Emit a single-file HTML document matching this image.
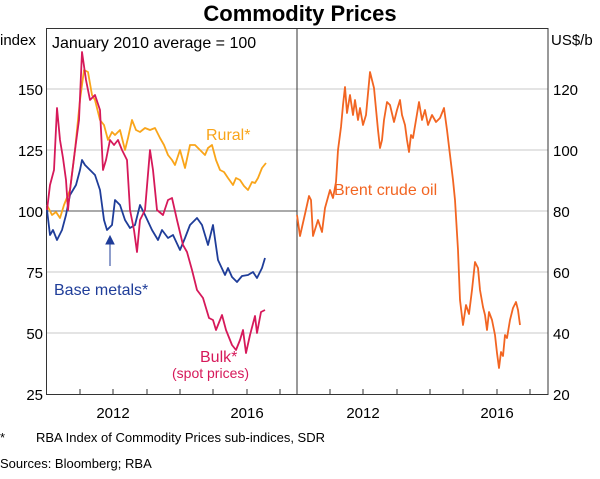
<!DOCTYPE html>
<html><head><style>body{margin:0;background:#fff}svg{font-family:"Liberation Sans",sans-serif}</style></head><body>
<svg width="600" height="474" viewBox="0 0 600 474">
<text x="300" y="21" text-anchor="middle" font-size="22" font-weight="bold">Commodity Prices</text>
<g stroke="#c8c8c8" stroke-width="1">
<line x1="47" y1="89" x2="548" y2="89"/><line x1="47" y1="150" x2="548" y2="150"/>
<line x1="297" y1="211" x2="548" y2="211"/><line x1="47" y1="272" x2="548" y2="272"/><line x1="47" y1="333" x2="548" y2="333"/>
</g>
<line x1="47" y1="211" x2="297" y2="211" stroke="#555" stroke-width="1"/>
<rect x="46.5" y="28.5" width="501.5" height="366" fill="none" stroke="#333" stroke-width="1"/>
<line x1="297" y1="28" x2="297" y2="395" stroke="#333"/>
<g stroke="#333">
<line x1="80" y1="395" x2="80" y2="389"/><line x1="113" y1="395" x2="113" y2="389"/><line x1="147" y1="395" x2="147" y2="389"/><line x1="180" y1="395" x2="180" y2="389"/><line x1="213" y1="395" x2="213" y2="389"/><line x1="247" y1="395" x2="247" y2="389"/><line x1="280" y1="395" x2="280" y2="389"/>
<line x1="330" y1="395" x2="330" y2="389"/><line x1="363" y1="395" x2="363" y2="389"/><line x1="397" y1="395" x2="397" y2="389"/><line x1="430" y1="395" x2="430" y2="389"/><line x1="463" y1="395" x2="463" y2="389"/><line x1="497" y1="395" x2="497" y2="389"/><line x1="530" y1="395" x2="530" y2="389"/>
</g>
<g font-size="15" fill="#000">
<text x="0" y="45">index</text>
<g text-anchor="end"><text x="43" y="95">150</text><text x="43" y="156">125</text><text x="43" y="217">100</text><text x="43" y="278">75</text><text x="43" y="339">50</text><text x="43" y="400">25</text></g>
<text x="551" y="45">US$/b</text>
<g><text x="553" y="95">120</text><text x="553" y="156">100</text><text x="553" y="217">80</text><text x="553" y="278">60</text><text x="553" y="339">40</text><text x="553" y="400">20</text></g>
<g text-anchor="middle"><text x="113" y="418">2012</text><text x="247" y="418">2016</text><text x="363" y="418">2012</text><text x="497" y="418">2016</text></g>
<text x="52" y="48" font-size="16">January 2010 average = 100</text>
</g>
<g fill="none" stroke-width="1.8" stroke-linejoin="round">
<polyline stroke="#f9a51a" points="47,205 52,215 56,212 60,218 64,205 70,190 75,150 80,100 84,70 88,72 92,95 95,100 100,120 104,125 108,140 112,132 115,135 120,130 125,150 128,138 132,120 136,130 140,132 145,128 150,130 155,128 160,138 164,145 168,155 172,160 175,165 180,150 185,168 190,145 195,145 200,150 205,155 208,148 212,145 216,160 220,170 224,172 228,178 233,185 236,178 240,180 244,186 248,190 252,182 255,183 258,178 262,168 266,163"/>
<polyline stroke="#1f3d99" points="47,210 50,235 53,230 57,240 62,230 66,215 70,195 76,185 80,170 82,160 85,165 90,170 95,175 100,190 104,220 107,230 112,225 115,200 120,205 125,220 130,228 135,225 140,205 145,215 152,230 158,240 162,230 168,238 173,235 180,250 185,238 190,225 197,218 202,225 208,245 213,225 218,260 225,275 228,268 232,277 237,282 242,276 248,275 253,272 257,278 262,268 265,258"/>
<polyline stroke="#d6195a" points="47,210 50,185 54,170 57,108 60,140 63,158 66,180 68,210 70,190 75,150 79,120 82,52 86,80 90,100 95,95 100,110 103,170 106,160 110,140 114,145 118,140 122,150 127,160 130,210 134,230 137,252 140,220 145,210 150,150 153,170 157,210 163,215 168,200 172,198 177,220 183,245 187,252 192,270 197,290 203,298 209,318 213,320 216,330 222,315 226,330 232,345 236,350 240,340 243,330 246,353 250,335 255,316 257,333 261,312 265,310"/>
<polyline stroke="#f26522" points="297,215 300,236 305,214 309,196 311,200 313,236 318,220 322,232 325,208 330,190 333,198 336,182 338,150 341,127 343,105 345,87 347,113 350,95 353,115 355,100 358,120 360,108 363,125 366,115 370,72 374,88 378,130 380,148 382,140 384,120 387,102 390,105 394,122 397,110 400,100 402,115 405,125 407,140 409,152 411,135 413,138 416,120 419,102 422,120 425,110 428,125 432,115 436,122 440,118 444,108 447,130 450,155 453,180 455,200 458,250 460,300 463,325 466,305 469,314 472,290 475,262 478,268 480,290 483,307 485,315 487,330 489,312 492,320 495,335 497,353 499,368 501,352 503,356 505,335 507,338 510,320 513,308 516,302 518,310 520,325"/>
</g>
<g stroke="#1f3d99" fill="#1f3d99"><line x1="110" y1="266" x2="110" y2="240"/><polygon points="106,244 114,244 110,236"/></g>
<text x="206" y="140" font-size="16" fill="#f9a51a">Rural*</text>
<text x="54" y="295" font-size="16" fill="#1f3d99">Base metals*</text>
<text x="200" y="362" font-size="16" fill="#d6195a">Bulk*</text>
<text x="172" y="378" font-size="14" fill="#d6195a">(spot prices)</text>
<text x="334" y="195" font-size="16" fill="#f26522">Brent crude oil</text>
<g font-size="13" fill="#000"><text x="0" y="442">*</text><text x="36" y="442">RBA Index of Commodity Prices sub-indices, SDR</text><text x="0" y="468">Sources:  Bloomberg; RBA</text></g>
</svg>
</body></html>
